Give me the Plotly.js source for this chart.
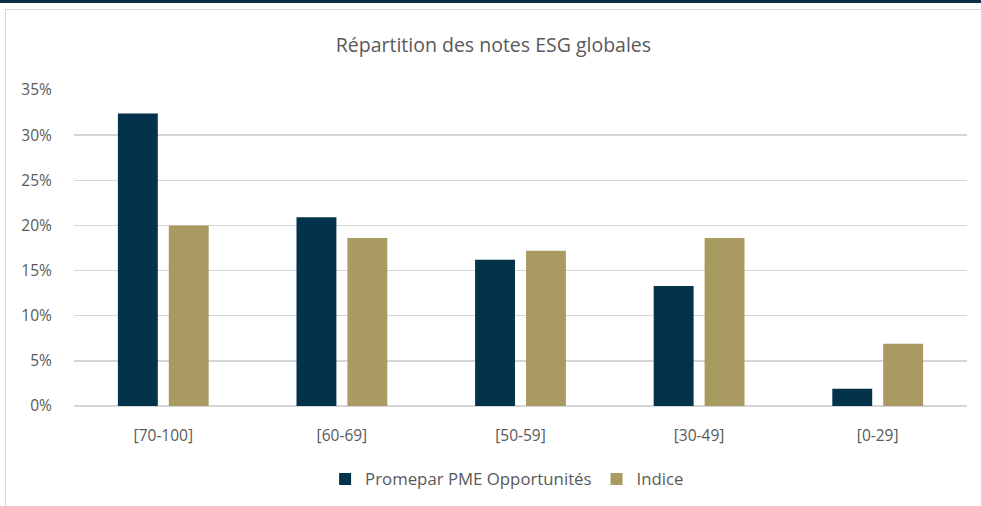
<!DOCTYPE html>
<html>
<head>
<meta charset="utf-8">
<script src="https://cdn.plot.ly/plotly-3.0.1.min.js"></script>
<style>
  html, body { margin: 0; padding: 0; background: #ffffff; }
  #wrap { position: relative; width: 981px; height: 506px; overflow: hidden; }
  #topband { position: absolute; left: 0; top: 0; width: 981px; height: 3px; background: #0f2f45; }
  #frame { position: absolute; left: 5px; top: 9px; width: 990px; height: 520px;
           border-left: 1px solid #d9d9d9; border-top: 1px solid #d9d9d9; }
  #chart { position: absolute; left: 0; top: 0; width: 981px; height: 506px; }
</style>
</head>
<body>
<div id="wrap">
  <div id="topband"></div>
  <div id="frame"></div>
  <div id="chart"></div>
</div>
<script>
const categories = ["[70-100]", "[60-69]", "[50-59]", "[30-49]", "[0-29]"];
const fundName = "Promepar PME Opportunités";
const indexName = "Indice";
const fundValues = [32.4, 20.9, 16.2, 13.3, 1.9];
const indexValues = [20.0, 18.6, 17.2, 18.6, 6.9];
const yTickVals = [0, 5, 10, 15, 20, 25, 30, 35];
const yTickText = ["0%", "5%", "10%", "15%", "20%", "25%", "30%", "35%"];

const FONT = "'Open Sans', 'Noto Sans', sans-serif";
const TXT = "#595959";

const traces = [
  { type: "bar", name: fundName, x: categories, y: fundValues,
    marker: { color: "#03324b", line: { width: 0 } }, hoverinfo: "x+y" },
  { type: "bar", name: indexName, x: categories, y: indexValues,
    marker: { color: "#a99a62", line: { width: 0 } }, hoverinfo: "x+y" }
];

const layout = {
  width: 981, height: 506,
  paper_bgcolor: "rgba(0,0,0,0)", plot_bgcolor: "rgba(0,0,0,0)",
  margin: { l: 74, r: 14, t: 90, b: 100, autoexpand: false },
  font: { family: FONT, color: TXT, size: 15 },
  title: { text: "Répartition des notes ESG globales", x: 0.503, xanchor: "center",
           y: 1 - 45/506, yanchor: "middle", yref: "container",
           font: { family: FONT, size: 19.5, color: TXT } },
  barmode: "group", bargap: 0.43, bargroupgap: 0.216,
  showlegend: true,
  legend: { orientation: "h", x: 0.485, xanchor: "center",
            yref: "container", y: 27/506, yanchor: "middle",
            font: { family: FONT, size: 16.8, color: TXT }, itemwidth: 30,
            traceorder: "normal", itemclick: false },
  xaxis: { type: "category", showgrid: false, zeroline: false, showline: false,
           ticks: "outside", ticklen: 15, tickcolor: "rgba(0,0,0,0)",
           tickfont: { family: FONT, size: 15.5, color: TXT }, fixedrange: true },
  yaxis: { range: [0, 35], tickvals: yTickVals, ticktext: yTickText,
           showgrid: true, gridcolor: "#d6d6d6", gridwidth: 1.5, zeroline: true,
           zerolinecolor: "#d6d6d6", zerolinewidth: 1.5, showline: false,
           ticks: "outside", ticklen: 18, tickcolor: "rgba(0,0,0,0)",
           tickfont: { family: FONT, size: 15.5, color: TXT }, fixedrange: true }
};

Plotly.newPlot("chart", traces, layout, { displayModeBar: false, staticPlot: true });
</script>
</body>
</html>
